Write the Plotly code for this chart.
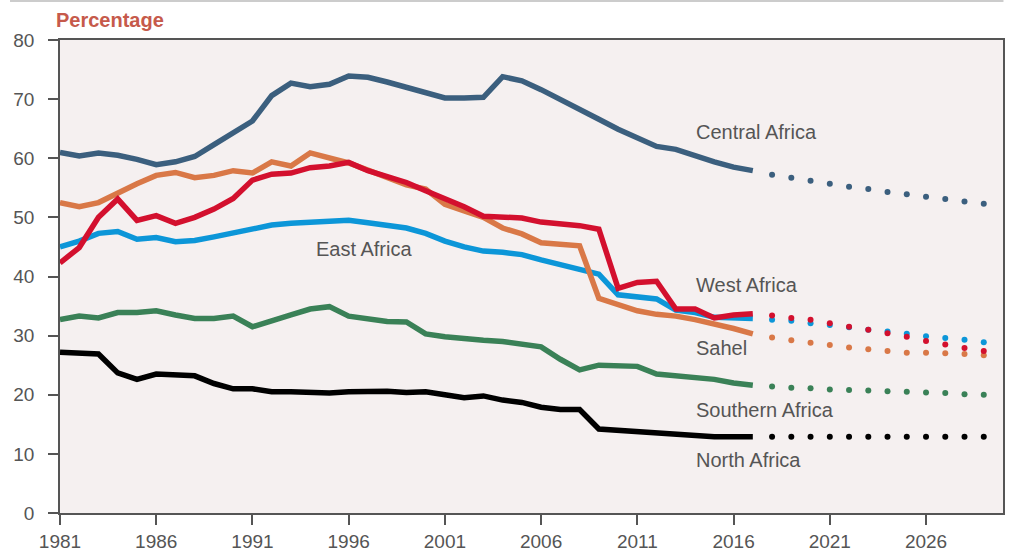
import plotly.graph_objects as go

# Historical years and projection years
years = list(range(1981, 2018))
proj_years = list(range(2018, 2030))

# Percentages by region, 1981-2017
central = [61.0, 60.4, 60.9, 60.5, 59.8, 58.9, 59.4, 60.3, 62.3, 64.4,
           66.3, 70.6, 72.7, 72.1, 72.5, 73.9, 73.7, 72.9, 72.0, 71.2,
           70.2, 70.2, 70.3, 73.8, 73.1, 71.6, 70.0, 68.3, 66.6, 64.9,
           63.4, 62.0, 61.5, 60.4, 59.4, 58.5, 57.9]
west = [42.3, 44.9, 50.0, 53.1, 49.5, 50.3, 49.0, 50.0, 51.4, 53.2,
        56.3, 57.3, 57.5, 58.4, 58.7, 59.3, 57.9, 57.0, 55.9, 54.5,
        53.2, 51.8, 50.2, 50.1, 49.9, 49.2, 49.0, 48.6, 48.0, 38.0,
        39.0, 39.2, 34.5, 34.5, 33.0, 33.5, 33.7]
east = [45.0, 46.0, 47.3, 47.6, 46.3, 46.6, 45.9, 46.1, 46.7, 47.3,
        48.1, 48.7, 49.0, 49.2, 49.4, 49.5, 49.1, 48.7, 48.2, 47.3,
        46.0, 45.0, 44.3, 44.1, 43.7, 42.8, 42.0, 41.2, 40.4, 36.9,
        36.6, 36.2, 34.3, 33.9, 33.1, 33.0, 32.9]
sahel = [52.5, 51.8, 52.5, 54.2, 55.7, 57.1, 57.6, 56.7, 57.1, 57.9,
         57.5, 59.4, 58.7, 60.9, 60.0, 59.2, 58.0, 56.8, 55.5, 54.8,
         52.2, 51.1, 50.0, 48.2, 47.2, 45.7, 45.5, 45.2, 36.3, 35.3,
         34.2, 33.6, 33.3, 32.7, 32.0, 31.2, 30.3]
southern = [32.7, 33.3, 33.0, 33.9, 33.9, 34.2, 33.5, 32.9, 32.9, 33.3,
            31.5, 32.6, 33.5, 34.5, 34.9, 33.3, 32.9, 32.4, 32.3, 30.3,
            29.8, 29.4, 29.2, 29.0, 28.5, 28.1, 26.0, 24.2, 25.0, 24.8,
            24.8, 23.5, 23.2, 23.1, 22.6, 22.0, 21.6]
north = [27.2, 27.0, 26.9, 23.7, 22.6, 23.5, 23.3, 23.2, 21.9, 21.0,
         21.0, 20.5, 20.5, 20.3, 20.3, 20.5, 20.6, 20.6, 20.4, 20.5,
         20.0, 19.5, 19.8, 19.1, 18.7, 17.9, 17.5, 17.5, 14.2, 14.0,
         13.8, 13.5, 13.3, 13.0, 12.9, 12.9, 12.9]

# Projections, 2018-2029
central_proj = [57.2, 56.7, 56.2, 55.7, 55.2, 54.8, 54.3, 53.9, 53.5, 53.1, 52.7, 52.3]
west_proj = [33.4, 33.0, 32.7, 32.1, 31.5, 31.0, 30.4, 29.8, 29.1, 28.5, 27.9, 27.4]
east_proj = [32.7, 32.5, 32.1, 31.8, 31.4, 31.0, 30.7, 30.3, 29.9, 29.6, 29.3, 28.9]
sahel_proj = [29.7, 29.2, 28.8, 28.4, 28.0, 27.7, 27.4, 27.1, 27.1, 27.0, 26.9, 26.7]
southern_proj = [21.4, 21.2, 21.1, 20.9, 20.8, 20.7, 20.6, 20.5, 20.4, 20.3, 20.1, 20.0]
north_proj = [12.9, 12.9, 12.9, 12.9, 12.9, 12.9, 12.9, 12.9, 12.9, 12.9, 12.9, 12.9]

# Region labels and where they sit
labels = ["Central Africa", "East Africa", "West Africa", "Sahel", "Southern Africa", "North Africa"]
label_x = [2013.95, 1994.2, 2013.95, 2013.95, 2013.95, 2013.95]
label_y = [64.4, 44.6, 38.5, 27.9, 17.5, 8.9]

x_ticks = list(range(1981, 2030, 5))

FONT = "Liberation Sans, Arial, sans-serif"
GREY = "#555555"

series = [
    ("North Africa", north, north_proj, "#000000"),
    ("Southern Africa", southern, southern_proj, "#3a8157"),
    ("Central Africa", central, central_proj, "#3b5f7e"),
    ("East Africa", east, east_proj, "#0c96d8"),
    ("Sahel", sahel, sahel_proj, "#d97847"),
    ("West Africa", west, west_proj, "#d3102e"),
]

fig = go.Figure()
for name, hist, proj, color in series:
    fig.add_trace(go.Scatter(
        x=years, y=hist, mode="lines", name=name,
        line=dict(color=color, width=5.5, shape="linear"),
        showlegend=False,
    ))
for name, hist, proj, color in series:
    fig.add_trace(go.Scatter(
        x=proj_years, y=proj, mode="markers", name=name + " (projection)",
        marker=dict(color=color, size=6),
        showlegend=False,
    ))

for text, lx, ly in zip(labels, label_x, label_y):
    fig.add_annotation(x=lx, y=ly, text=text, showarrow=False,
                       xanchor="left", yanchor="middle",
                       font=dict(family=FONT, size=20, color=GREY))

fig.add_annotation(xref="paper", yref="paper", x=-0.006, y=1.042,
                   text="<b>Percentage</b>", showarrow=False,
                   xanchor="left", yanchor="middle",
                   font=dict(family=FONT, size=20, color="#c65a4b"))

# thin rule across the top of the figure
fig.add_shape(type="line", xref="paper", yref="paper",
              x0=-0.053, x1=1.0005, y0=1.0825, y1=1.0825,
              line=dict(color="#cccccc", width=2))

fig.update_layout(
    width=1013, height=553,
    margin=dict(l=60, r=9.5, t=40, b=40),
    paper_bgcolor="white",
    plot_bgcolor="#f5f0f0",
    font=dict(family=FONT, color=GREY),
    xaxis=dict(
        range=[1981, 2030], tickvals=x_ticks, automargin=False,
        ticks="outside", ticklen=10, tickwidth=1.5, tickcolor=GREY,
        showline=True, linecolor=GREY, linewidth=1.5, mirror=True,
        showgrid=False, zeroline=False,
        tickfont=dict(family=FONT, size=19, color=GREY),
    ),
    yaxis=dict(
        range=[0, 80], dtick=10, automargin=False,
        ticks="outside", ticklen=10, tickwidth=1.5, tickcolor=GREY,
        showline=True, linecolor=GREY, linewidth=1.5, mirror=True,
        showgrid=False, zeroline=False,
        ticklabelstandoff=10,
        tickfont=dict(family=FONT, size=19, color=GREY),
    ),
)

fig.write_html("out.html")
